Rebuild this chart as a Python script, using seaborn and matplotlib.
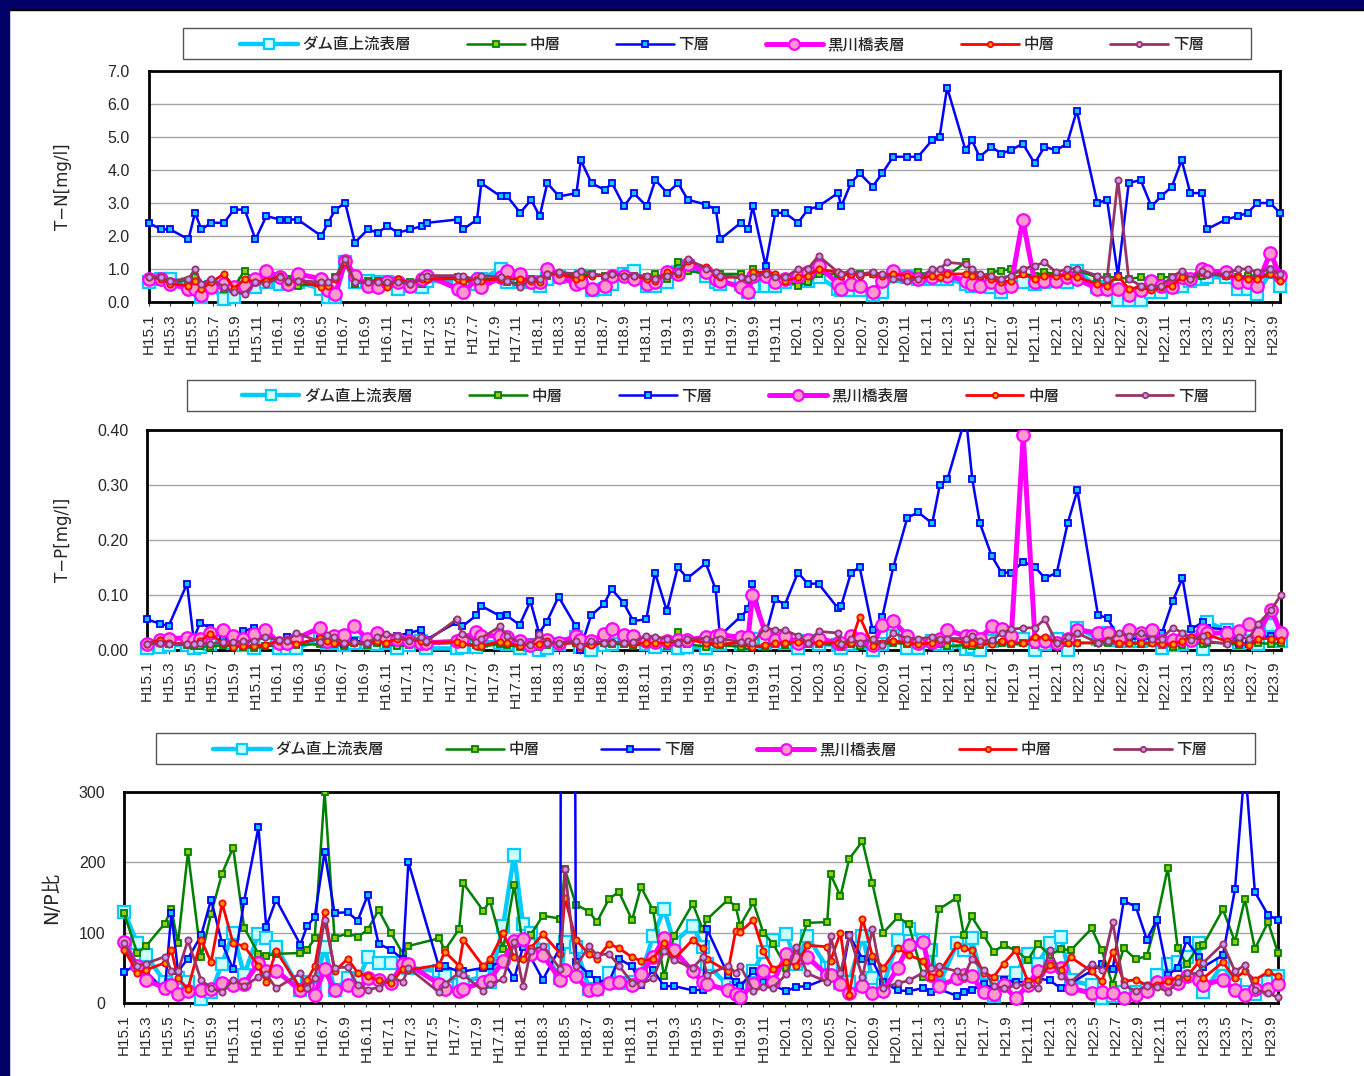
"""T-N, T-P, N/P比の経月変化 (ダム直上流 / 黒川橋)"""
import matplotlib
matplotlib.use('Agg')
import matplotlib.pyplot as plt
from matplotlib.patches import Rectangle
import seaborn as sns

sns.set_style('white')
plt.rcParams['font.family'] = ['Noto Sans CJK JP', 'DejaVu Sans']

# 調査月 (H15.1 からの月数)
months = [
    0.0, 1.2, 2.0, 3.7, 4.3, 4.9, 5.8, 7.0, 7.9, 8.9,
    9.9, 10.9, 12.2, 12.9, 13.8, 16.0, 16.6, 17.3, 18.2, 19.1,
    20.3, 21.2, 22.1, 23.1, 24.2, 25.3, 25.8, 28.6, 29.1, 30.4,
    30.8, 32.6, 33.2, 34.4, 35.4, 36.2, 36.9, 38.0, 39.6, 40.0,
    41.0, 42.2, 42.9, 44.0, 44.9, 46.1, 46.9, 48.0, 49.0, 49.9,
    51.6, 52.5, 52.9, 54.8, 55.5, 55.9, 57.1, 58.0, 58.9, 60.1,
    61.0, 62.0, 63.8, 64.1, 65.0, 65.8, 67.0, 67.9, 68.9, 70.2,
    71.2, 72.5, 73.2, 73.9, 75.6, 76.2, 76.9, 78.0, 78.9, 79.8,
    80.9, 82.0, 82.9, 84.0, 85.0, 85.9, 87.8, 88.7, 89.7, 90.7,
    91.8, 92.8, 93.7, 94.7, 95.6, 96.4, 97.5, 97.9, 99.7, 100.8,
    101.7, 102.6, 103.8, 104.7,
]

series_names = ['ダム直上流表層', '中層', '下層', '黒川橋表層', '中層', '下層']

# T-N
tn_dam_top = [
    .6, .7, .7, .55, .5, .15, .45, .1, .15, .55,
    .45, .6, .55, .6, .6, .4, .15, .15, 1.2, .6,
    .65, .6, .6, .4, .5, .45, .65, .6, .55, .55,
    .7, 1.0, .6, .6, .6, .5, .7, .75, .7, .8,
    .35, .4, .55, .85, .95, .5, .5, .6, .9, 1.1,
    .8, .6, .55, .55, .3, .5, .5, .5, .6, .7,
    .65, .75, .4, .35, .35, .35, .2, .3, .8, .75,
    .7, .7, .7, .7, .55, .5, .5, .45, .3, .6,
    .6, .55, .6, .65, .6, .95, .45, .4, .05, .05,
    .05, .3, .3, .45, .5, .65, .7, .75, .75, .4,
    .4, .25, .9, .5,
]
tn_dam_mid = [
    .7, .7, .6, .65, .75, .5, .6, .4, .45, .95,
    .6, .6, .75, .7, .5, .55, .5, .75, 1.3, .55,
    .65, .65, .55, .65, .6, .55, .7, .75, .6, .65,
    .7, .7, .6, .55, .7, .65, .8, .85, .8, .8,
    .85, .8, .8, .8, .8, .75, .85, .7, 1.2, .95,
    .85, .75, .85, .85, .7, 1.0, .8, .75, .65, .5,
    .6, .85, .85, .8, .85, .85, .85, .75, .9, .8,
    .9, .8, .85, .8, 1.2, .9, .75, .9, .95, 1.0,
    .85, .8, .9, .85, .8, .95, .75, .75, .75, .7,
    .75, .7, .75, .75, .8, .7, .8, .85, .8, .75,
    .8, .8, .85, .75,
]
tn_dam_low = [
    2.4, 2.2, 2.2, 1.9, 2.7, 2.2, 2.4, 2.4, 2.8, 2.8,
    1.9, 2.6, 2.5, 2.5, 2.5, 2.0, 2.4, 2.8, 3.0, 1.8,
    2.2, 2.1, 2.3, 2.1, 2.2, 2.3, 2.4, 2.5, 2.2, 2.5,
    3.6, 3.2, 3.2, 2.7, 3.1, 2.6, 3.6, 3.2, 3.3, 4.3,
    3.6, 3.4, 3.6, 2.9, 3.3, 2.9, 3.7, 3.3, 3.6, 3.1,
    2.95, 2.8, 1.9, 2.4, 2.2, 2.9, 1.1, 2.7, 2.7, 2.4,
    2.8, 2.9, 3.3, 2.9, 3.6, 3.9, 3.5, 3.9, 4.4, 4.4,
    4.4, 4.9, 5.0, 6.5, 4.6, 4.9, 4.4, 4.7, 4.5, 4.6,
    4.8, 4.2, 4.7, 4.6, 4.8, 5.8, 3.0, 3.1, .8, 3.6,
    3.7, 2.9, 3.2, 3.5, 4.3, 3.3, 3.3, 2.2, 2.5, 2.6,
    2.7, 3.0, 3.0, 2.7,
]
tn_kuro_top = [
    .7, .7, .55, .4, .4, .2, .45, .55, .45, .5,
    .7, .95, .75, .55, .85, .7, .35, .25, 1.25, .8,
    .5, .45, .6, .6, .5, .7, .8, .4, .3, .7,
    .45, .75, .95, .85, .6, .6, 1.0, .75, .55, .6,
    .4, .5, .8, .8, .7, .55, .6, .9, .85, 1.15,
    .9, .7, .65, .45, .3, .8, .8, .6, .7, .8,
    .9, 1.1, .55, .4, .55, .5, .3, .65, .95, .75,
    .7, .75, .85, .8, .65, .55, .5, .6, .45, .5,
    2.5, .6, .65, .65, .75, .7, .4, .4, .4, .2,
    .35, .65, .5, .45, .75, .7, 1.0, .95, .9, .6,
    .6, .5, 1.5, .8,
]
tn_kuro_mid = [
    .75, .7, .55, .5, .65, .4, .6, .85, .4, .7,
    .6, .65, .8, .6, .65, .45, .5, .7, 1.2, .6,
    .6, .65, .45, .7, .55, .7, .7, .7, .65, .7,
    .65, .7, .7, .7, .65, .6, .85, .85, .7, .75,
    .8, .8, .85, .8, .8, .7, .65, .9, .85, 1.25,
    1.05, .85, .75, .75, .7, .9, .9, .85, .65, .75,
    .8, 1.0, .9, .8, .85, .8, .85, .8, .85, .8,
    .7, .8, .75, .85, .85, .8, .8, .7, .6, .65,
    .85, .7, .8, .8, .8, .75, .55, .5, .8, .4,
    .45, .35, .45, .5, .75, .7, .9, .85, .8, .75,
    .7, .7, .85, .65,
]
tn_kuro_low = [
    .75, .75, .65, .7, 1.0, .55, .7, .45, .3, .25,
    .6, .55, .75, .65, .65, .6, .6, .75, 1.3, .6,
    .6, .6, .6, .6, .55, .75, .8, .8, .8, .65,
    .8, .75, .65, .45, .7, .7, .85, .9, .85, .95,
    .85, .8, .85, .8, .8, .8, .7, .8, .9, 1.3,
    1.0, .9, .8, .75, .7, .75, .85, .75, .75, 1.0,
    1.0, 1.4, .9, .85, .95, .85, .9, .85, .7, .65,
    .7, 1.0, 1.0, 1.2, 1.15, 1.0, .85, .8, .7, .8,
    1.0, 1.1, 1.2, .9, 1.0, 1.0, .8, .7, 3.7, .7,
    .5, .45, .5, .75, .95, .7, .95, .85, .85, 1.0,
    1.0, .9, 1.0, .85,
]

# T-P
tp_dam_top = [
    .003, .005, .008, .008, .003, .005, .01, .02, .012, .008,
    .002, .018, .002, .002, .002, .02, .012, .012, .008, .012,
    .012, .01, .012, .002, .008, .015, .002, .002, .005, .005,
    .015, .012, .01, .002, .008, .0, .002, .01, .022, .004,
    .0, .008, .01, .02, .02, .01, .005, .01, .002, .005,
    .003, .012, .01, .01, .02, .02, .012, .015, .012, .003,
    .015, .01, .008, .003, .01, .012, .0, .01, .025, .003,
    .003, .015, .01, .01, .001, .005, .0, .015, .02, .02,
    .02, .0, .01, .02, .0, .04, .02, .03, .018, .015,
    .015, .02, .002, .008, .01, .022, .001, .05, .035, .012,
    .015, .01, .045, .015,
]
tp_dam_mid = [
    .008, .012, .01, .008, .006, .006, .005, .008, .006, .005,
    .002, .006, .008, .008, .008, .01, .01, .01, .006, .012,
    .008, .012, .01, .006, .008, .008, .01, .012, .012, .008,
    .005, .01, .008, .005, .005, .005, .008, .012, .012, .005,
    .01, .012, .01, .01, .006, .012, .01, .006, .032, .01,
    .005, .012, .008, .005, .006, .005, .005, .01, .008, .012,
    .01, .01, .008, .005, .01, .006, .005, .01, .012, .01,
    .008, .008, .01, .006, .008, .006, .008, .012, .012, .01,
    .012, .008, .01, .012, .012, .012, .012, .012, .01, .012,
    .01, .012, .008, .005, .008, .012, .01, .012, .012, .008,
    .01, .012, .01, .012,
]
tp_dam_low = [
    .055, .047, .043, .12, .02, .048, .04, .02, .015, .033,
    .04, .03, .012, .023, .01, .02, .015, .015, .01, .015,
    .015, .018, .02, .025, .03, .036, .018, .05, .042, .062,
    .08, .061, .062, .045, .088, .03, .05, .096, .042, .0,
    .062, .083, .11, .085, .052, .055, .14, .07, .15, .13,
    .157, .11, .025, .06, .073, .12, .025, .092, .082, .14,
    .12, .12, .075, .08, .14, .15, .035, .06, .15, .24,
    .25, .23, .30, .31, .425, .31, .23, .17, .14, .14,
    .16, .15, .13, .14, .23, .29, .063, .057, .02, .02,
    .02, .02, .03, .088, .13, .037, .05, .04, .036, .012,
    .01, .02, .025, .02,
]
tp_kuro_top = [
    .01, .017, .02, .021, .018, .02, .03, .036, .025, .02,
    .028, .036, .012, .012, .02, .04, .015, .025, .027, .043,
    .02, .03, .02, .02, .015, .012, .012, .015, .02, .032,
    .025, .025, .022, .015, .008, .012, .018, .012, .025, .018,
    .015, .028, .037, .027, .025, .015, .013, .015, .018, .018,
    .022, .025, .027, .022, .022, .10, .03, .017, .025, .012,
    .017, .02, .012, .012, .025, .02, .008, .045, .052, .025,
    .012, .013, .02, .035, .025, .025, .02, .042, .037, .024,
    .39, .015, .015, .012, .02, .036, .03, .03, .02, .035,
    .03, .036, .015, .018, .02, .018, .035, .03, .03, .033,
    .047, .03, .072, .03,
]
tp_kuro_mid = [
    .01, .018, .012, .01, .01, .015, .029, .012, .005, .007,
    .006, .009, .015, .018, .01, .021, .015, .012, .01, .012,
    .012, .015, .012, .02, .018, .015, .013, .014, .01, .006,
    .007, .014, .012, .006, .01, .01, .015, .01, .012, .005,
    .009, .012, .013, .012, .01, .012, .011, .012, .014, .018,
    .012, .01, .01, .012, .012, .005, .008, .012, .012, .014,
    .012, .012, .012, .008, .012, .06, .007, .012, .016, .012,
    .01, .012, .018, .018, .012, .012, .01, .01, .015, .012,
    .012, .022, .022, .012, .012, .012, .012, .018, .012, .012,
    .012, .012, .01, .01, .016, .022, .018, .027, .015, .012,
    .008, .02, .02, .018,
]
tp_kuro_low = [
    .01, .012, .01, .01, .01, .012, .01, .014, .013, .015,
    .016, .022, .018, .015, .03, .014, .027, .022, .012, .014,
    .012, .022, .028, .025, .015, .022, .015, .055, .028, .014,
    .02, .042, .025, .013, .008, .028, .012, .012, .015, .006,
    .015, .012, .012, .012, .014, .025, .023, .02, .012, .02,
    .02, .018, .02, .014, .015, .012, .04, .035, .035, .025,
    .012, .033, .03, .01, .02, .012, .02, .008, .03, .02,
    .02, .022, .02, .02, .02, .025, .015, .017, .03, .037,
    .039, .04, .055, .012, .022, .03, .012, .015, .03, .025,
    .03, .02, .02, .04, .03, .018, .025, .015, .01, .022,
    .02, .047, .072, .10,
]

# N/P比
np_dam_top = [
    130, 85, 68, 30, 25, 35, 30, 5, 15, 56,
    100, 40, 98, 93, 80, 18, 30, 20, 80, 18,
    35, 30, 65, 57, 57, 52, 50, 45, 38, 25,
    30, 38, 30, 110, 211, 112, 100, 75, 35, 87,
    80, 20, 20, 42, 28, 30, 40, 95, 133, 86,
    110, 80, 55, 25, 22, 20, 45, 73, 90, 98,
    55, 95, 50, 50, 28, 30, 95, 35, 25, 90,
    105, 90, 75, 25, 85, 75, 92, 25, 10, 30,
    42, 70, 55, 85, 94, 32, 25, 7, 10, 15,
    15, 20, 40, 55, 58, 65, 85, 15, 55, 25,
    15, 13, 30, 38,
]
np_dam_mid = [
    128, 71, 81, 113, 133, 85, 214, 65, 127, 184,
    221, 107, 70, 67, 70, 71, 75, 92, 300, 93,
    99, 94, 104, 132, 100, 70, 81, 92, 75, 105,
    170, 131, 145, 77, 168, 80, 97, 124, 120, 190,
    140, 130, 115, 148, 158, 118, 165, 132, 38, 95,
    141, 105, 119, 147, 137, 110, 143, 100, 84, 50,
    70, 114, 115, 183, 152, 205, 230, 170, 100, 122,
    112, 37, 35, 133, 150, 96, 123, 96, 73, 82,
    75, 61, 84, 68, 77, 75, 106, 75, 26, 78,
    62, 67, 118, 192, 78, 55, 81, 82, 133, 87,
    148, 77, 115, 71,
]
np_dam_low = [
    44, 55, 45, 17, 128, 45, 63, 96, 147, 85,
    48, 145, 250, 108, 147, 83, 109, 122, 215, 128,
    129, 117, 153, 84, 76, 62, 200, 50, 52, 45,
    45, 50, 52, 60, 35, 80, 65, 33, 80, 4300,
    58, 41, 32, 30, 63, 52, 25, 47, 24, 24,
    18, 19, 105, 40, 30, 24, 45, 30, 25, 17,
    23, 24, 35, 35, 27, 96, 63, 60, 30, 18,
    17, 21, 16, 20, 10, 16, 18, 27, 20, 32,
    30, 30, 35, 32, 21, 28, 46, 55, 48, 145,
    137, 90, 118, 40, 50, 89, 65, 51, 68, 162,
    340, 158, 125, 118,
]
np_kuro_top = [
    87, 52, 32, 22, 26, 13, 17, 18, 20, 29,
    25, 27, 57, 45, 46, 18, 25, 12, 48, 18,
    26, 18, 35, 32, 28, 56, 55, 27, 20, 17,
    20, 30, 33, 60, 88, 91, 70, 68, 33, 47,
    38, 18, 20, 29, 30, 25, 41, 65, 92, 75,
    45, 30, 27, 18, 13, 8, 27, 45, 30, 70,
    62, 65, 40, 40, 27, 14, 24, 14, 17, 50,
    82, 87, 40, 24, 35, 40, 38, 15, 13, 25,
    7, 25, 46, 52, 50, 21, 14, 16, 14, 7,
    12, 17, 30, 30, 28, 38, 33, 26, 33, 18,
    12, 20, 20, 27,
]
np_kuro_mid = [
    76, 43, 47, 57, 75, 35, 20, 90, 58, 142,
    85, 81, 53, 30, 74, 21, 32, 52, 130, 45,
    63, 43, 38, 32, 28, 48, 47, 54, 73, 53,
    90, 52, 62, 99, 65, 63, 78, 98, 70, 150,
    90, 69, 63, 84, 78, 65, 60, 63, 85, 62,
    90, 78, 62, 45, 103, 101, 118, 74, 48, 58,
    53, 82, 80, 60, 100, 12, 120, 67, 50, 78,
    68, 60, 37, 42, 83, 78, 75, 43, 37, 56,
    75, 31, 33, 54, 47, 65, 45, 31, 72, 31,
    33, 25, 26, 31, 36, 37, 58, 35, 58, 35,
    45, 33, 44, 38,
]
np_kuro_low = [
    85, 53, 56, 66, 46, 45, 89, 32, 22, 15,
    33, 24, 37, 41, 21, 42, 22, 35, 118, 50,
    51, 25, 19, 22, 37, 30, 50, 15, 27, 43,
    40, 17, 27, 34, 87, 24, 74, 81, 48, 190,
    52, 81, 68, 70, 53, 29, 27, 35, 74, 61,
    50, 65, 40, 53, 43, 53, 17, 23, 22, 41,
    80, 42, 30, 95, 42, 97, 37, 105, 22, 28,
    32, 43, 50, 52, 45, 37, 62, 47, 24, 21,
    25, 26, 21, 75, 38, 30, 56, 47, 115, 25,
    17, 24, 23, 16, 30, 42, 42, 57, 84, 45,
    54, 19, 14, 8,
]

# 月ラベル (2ヶ月おき)
tick_months = list(range(0, 105, 2))
tick_labels = [f'H{15 + m // 12}.{m % 12 + 1}' for m in tick_months]

W, H = 1364, 1076

# 系列の書式
styles = [
    dict(color='#00CCFF', linewidth=3.2, marker='s', markersize=8.5,
         markerfacecolor='#CCFFFF', markeredgecolor='#00CCFF', markeredgewidth=1.6),
    dict(color='#008000', linewidth=1.8, marker='s', markersize=4.5,
         markerfacecolor='#99CC00', markeredgecolor='#008000', markeredgewidth=1.3),
    dict(color='#0000FF', linewidth=1.8, marker='s', markersize=4.5,
         markerfacecolor='#00CCFF', markeredgecolor='#0000FF', markeredgewidth=1.3),
    dict(color='#FF00FF', linewidth=3.6, marker='o', markersize=9,
         markerfacecolor='#FF99CC', markeredgecolor='#FF00FF', markeredgewidth=1.6),
    dict(color='#FF0000', linewidth=2, marker='o', markersize=4.5,
         markerfacecolor='#FF9900', markeredgecolor='#FF0000', markeredgewidth=1.3),
    dict(color='#993366', linewidth=2, marker='o', markersize=4.5,
         markerfacecolor='#CC99FF', markeredgecolor='#993366', markeredgewidth=1.3),
]


def add_panel(fig, box, legend_box, legend_gap, data, ylim, yticks, yfmt, ylabel, ylabel_x, ylabel_size):
    left, right, top, bottom = box
    ax = fig.add_axes([left / W, 1 - bottom / H, (right - left) / W, (bottom - top) / H])
    for values, style in zip(data, styles):
        sns.lineplot(x=months, y=values, ax=ax, sort=False, errorbar=None,
                     estimator=None, legend=False, **style)

    # 上端だけ切り、左右下はマーカーがはみ出してよい
    clip = Rectangle((-0.02, -0.06), 1.04, 1.06, transform=ax.transAxes)
    for line in ax.lines:
        line.set_clip_path(clip)

    ax.set_xlim(0, 104.7)
    ax.set_ylim(*ylim)
    ax.set_yticks(yticks)
    ax.set_yticklabels([yfmt.format(v) for v in yticks], family='Liberation Sans', fontsize=11.5)
    ax.set_xticks(tick_months)
    ax.set_xticklabels(tick_labels, rotation=90, family='Liberation Sans', fontsize=11)
    ax.tick_params(axis='y', length=0, pad=13.5)
    ax.tick_params(axis='x', length=3, width=0.8, color='#333333', pad=5, bottom=True)
    ax.yaxis.grid(True, color='#A6A6A6', linewidth=1)
    ax.xaxis.grid(False)
    ax.set_axisbelow(True)
    for spine in ax.spines.values():
        spine.set_visible(True)
        spine.set_color('black')
        spine.set_linewidth(2)
        spine.set_zorder(1.5)

    fig.text(ylabel_x / W, 1 - (top + bottom) / 2 / H, ylabel, rotation=90,
             ha='center', va='center', fontsize=ylabel_size,
             family=['DejaVu Sans', 'Noto Sans CJK JP'])

    # 凡例の枠と中身
    x0, y0, x1, y1 = legend_box
    fig.add_artist(Rectangle((x0 / W, 1 - y1 / H), (x1 - x0) / W, (y1 - y0) / H,
                             transform=fig.transFigure, fill=False, ec='#555555', lw=1))
    fig.legend(ax.lines, series_names, loc='center',
               bbox_to_anchor=(((x0 + x1) / 2 + 5) / W, 1 - ((y0 + y1) / 2 + 1) / H),
               ncol=6, frameon=False, handlelength=3.7, markerscale=0.85,
               prop=dict(size=11.2, weight='medium'),
               handletextpad=0.3, columnspacing=legend_gap, borderpad=0, borderaxespad=0)
    return ax


fig = plt.figure(figsize=(W / 100, H / 100), dpi=100, facecolor='white')

# 上と左の紺色の帯
fig.add_artist(Rectangle((0, 1 - 9 / H), 1, 9 / H, transform=fig.transFigure, color='#000066', zorder=5))
fig.add_artist(Rectangle((0, 0), 9 / W, 1, transform=fig.transFigure, color='#000066', zorder=5))
fig.add_artist(Rectangle((9 / W, 1 - 10 / H), 1, 1.5 / H, transform=fig.transFigure, color='black', zorder=5))

add_panel(fig, (148.5, 1280, 71, 302), (183, 28, 1251, 59), 3.6,
          [tn_dam_top, tn_dam_mid, tn_dam_low, tn_kuro_top, tn_kuro_mid, tn_kuro_low],
          (0, 7), [0, 1, 2, 3, 4, 5, 6, 7], '{:.1f}', 'T−N[mg/l]', 63, 12)
add_panel(fig, (147, 1281, 430, 649.5), (186.5, 379.5, 1254.5, 410.5), 3.65,
          [tp_dam_top, tp_dam_mid, tp_dam_low, tp_kuro_top, tp_kuro_mid, tp_kuro_low],
          (0, 0.4), [0, 0.1, 0.2, 0.3, 0.4], '{:.2f}', 'T−P[mg/l]', 63, 12)
add_panel(fig, (124, 1278, 792, 1003), (156, 733, 1254.5, 764), 4.0,
          [np_dam_top, np_dam_mid, np_dam_low, np_kuro_top, np_kuro_mid, np_kuro_low],
          (0, 300), [0, 100, 200, 300], '{:.0f}', 'N/P比', 52, 14)

fig.savefig('out.png', dpi=100)
